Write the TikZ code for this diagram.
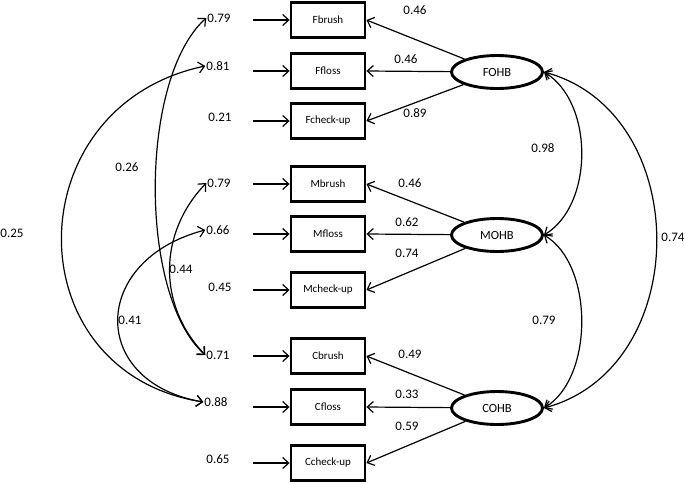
\documentclass[tikz,border=0pt]{standalone}
\usepackage{fontspec}
\setmainfont{Carlito}
\usetikzlibrary{shapes.geometric, arrows.meta}
\tikzset{
  obs/.style={draw, line width=2.9pt, minimum width=74pt, minimum height=35pt, inner sep=0pt, font=\fontsize{11}{13}\selectfont},
  lat/.style={ellipse, draw, line width=2.9pt, minimum width=91pt, minimum height=33pt, inner sep=0pt, font=\fontsize{12.5}{14}\selectfont},
  num/.style={inner sep=1pt, font=\fontsize{13}{15}\selectfont},
  arr/.style={-{Straight Barb[length=6pt,width=11pt]}, line width=1.2pt},
  cov/.style={{Straight Barb[length=6pt,width=11pt]}-{Straight Barb[length=6pt,width=11pt]}, line width=1.2pt},
}

\begin{document}
\begin{tikzpicture}[x=1pt, y=-1pt]
  \useasboundingbox (0,0) rectangle (685,483);
  % observed indicators
  \node[obs] (Fbrush) at (328,20) {Fbrush};
  \node[obs] (Ffloss) at (328,71) {Ffloss};
  \node[obs] (Fcheck) at (328,121) {Fcheck-up};
  \node[obs] (Mbrush) at (328,184) {Mbrush};
  \node[obs] (Mfloss) at (328,234) {Mfloss};
  \node[obs] (Mcheck) at (328,290) {Mcheck-up};
  \node[obs] (Cbrush) at (328,356) {Cbrush};
  \node[obs] (Cfloss) at (328,407) {Cfloss};
  \node[obs] (Ccheck) at (328,463) {Ccheck-up};
  % latent factors
  \node[lat] (FOHB) at (497,72) {FOHB};
  \node[lat] (MOHB) at (497,235) {MOHB};
  \node[lat] (COHB) at (497,408) {COHB};
  % residuals
  \node[num] (eFb) at (219,18) {0.79};
  \node[num] (eFf) at (218,66) {0.81};
  \node[num] (eFc) at (220,117) {0.21};
  \node[num] (eMb) at (219,183) {0.79};
  \node[num] (eMf) at (218,230) {0.66};
  \node[num] (eMc) at (220,287) {0.45};
  \node[num] (eCb) at (218,355) {0.71};
  \node[num] (eCf) at (216,402) {0.88};
  \node[num] (eCc) at (218,459) {0.65};
  \foreach \b in {Fbrush,Ffloss,Fcheck,Mbrush,Mfloss,Mcheck,Cbrush,Cfloss,Ccheck}
    \draw[arr] ([xshift=-37pt]\b.west) -- (\b.west);
  % loadings
  \draw[arr] (FOHB) -- (Fbrush.east);
  \draw[arr] (FOHB) -- (Ffloss.east);
  \draw[arr] (FOHB) -- (Fcheck.east);
  \draw[arr] (MOHB) -- (Mbrush.east);
  \draw[arr] (MOHB) -- (Mfloss.east);
  \draw[arr] (MOHB) -- (Mcheck.east);
  \draw[arr] (COHB) -- (Cbrush.east);
  \draw[arr] (COHB) -- (Cfloss.east);
  \draw[arr] (COHB) -- (Ccheck.east);
  \node[num] at (415,10) {0.46};
  \node[num] at (406,59) {0.46};
  \node[num] at (415,113) {0.89};
  \node[num] at (410,183) {0.46};
  \node[num] at (407,222) {0.62};
  \node[num] at (407,253) {0.74};
  \node[num] at (410,354) {0.49};
  \node[num] at (407,394) {0.33};
  \node[num] at (407,426) {0.59};
  % factor correlations
  \draw[cov] (FOHB.east) .. controls +(50,30) and +(50,-30) .. (MOHB.east);
  \draw[cov] (MOHB.east) .. controls +(50,30) and +(50,-30) .. (COHB.east);
  \draw[cov] (FOHB.east) .. controls +(150,40) and +(150,-40) .. (COHB.east);
  \node[num] at (543,148) {0.98};
  \node[num] at (544,320) {0.79};
  \node[num] at (673,237) {0.74};
  % residual correlations
  \draw[cov] (eFb.west) .. controls +(-67,60) and +(-67,-60) .. (eCb.west);
  \draw[cov] (eFf.west) .. controls +(-190,40) and +(-190,-30) .. (eCf.west);
  \draw[cov] (eMb.west) .. controls +(-48,50) and +(-48,-50) .. (eCb.west);
  \draw[cov] (eMf.west) .. controls +(-115,30) and +(-115,-20) .. (eCf.west);
  \node[num] at (127,167) {0.26};
  \node[num] at (12,233) {0.25};
  \node[num] at (181,269) {0.44};
  \node[num] at (130,320) {0.41};
\end{tikzpicture}
\end{document}
